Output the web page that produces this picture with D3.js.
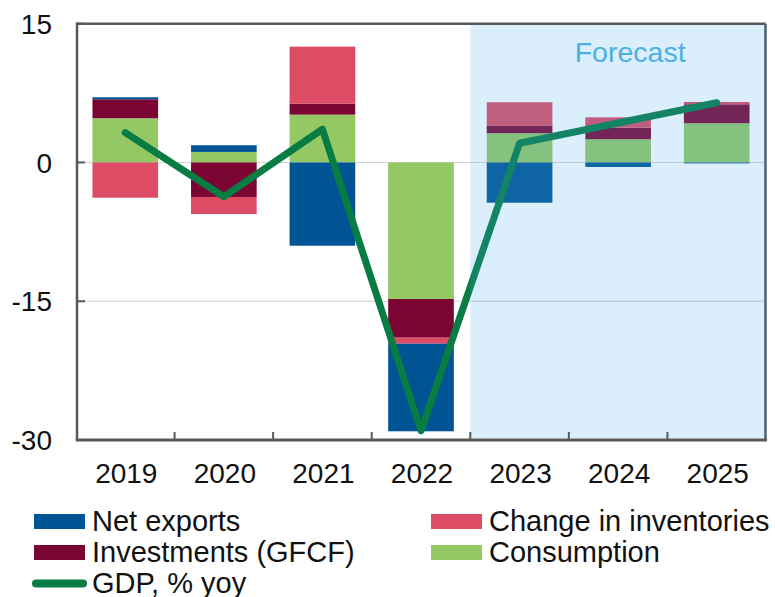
<!DOCTYPE html>
<html>
<head>
<meta charset="utf-8">
<script src="https://cdn.jsdelivr.net/npm/d3@7"></script>
<style>
body{margin:0;background:#fff;}
text{font-family:"Liberation Sans",Arial,sans-serif;}
</style>
</head>
<body>
<div id="chart"></div>
<script>
// GDP growth decomposition, contributions in pp, with forecast shading

const years = ["2019","2020","2021","2022","2023","2024","2025"];
const consumption = [4.78, 1.14, 5.17, -14.76, 3.16, 2.51, 4.24];
const investments = [2.05, -3.73, 1.19, -4.18, 0.79, 1.25, 2.05];
const inventories = [-3.81, -1.84, 6.16, -0.65, 2.56, 1.12, 0.25];
const netExports  = [0.22, 0.72, -9.00, -9.47, -4.35, -0.49, -0.10];
const gdp         = [3.22, -3.70, 3.59, -29.0, 2.08, 4.27, 6.46];
const yTicks = [15, 0, -15, -30];
const gridTicks = [0, -15];
const forecastStart = "2023";
const forecastLabel = "Forecast";

// series: stack order from zero outwards
const series = [
  {key:"cons",   name:"Consumption",           color:"#93c865", vals:consumption},
  {key:"inv",    name:"Investments (GFCF)",    color:"#7b0532", vals:investments},
  {key:"invent", name:"Change in inventories", color:"#dc4d65", vals:inventories},
  {key:"net",    name:"Net exports",           color:"#005493", vals:netExports}
];
const gdpColor = "#077c43";
const gdpName = "GDP, % yoy";

const width = 775, height = 597;
const pLeft = 76, pRight = 766, pTop = 23.7, pBottom = 440;

const svg = d3.select("#chart").append("svg")
  .attr("width", width).attr("height", height);

const x = d3.scaleBand().domain(years).range([pLeft, pRight]).padding(0);
const y = d3.scaleLinear().domain([-30, 15]).range([pBottom, pTop]);
const barW = x.bandwidth() * 0.666;
const cx = d => x(d) + x.bandwidth() / 2;

// gridlines
svg.append("g").selectAll("line").data(gridTicks).join("line")
  .attr("x1", pLeft).attr("x2", pRight)
  .attr("y1", d => y(d)).attr("y2", d => y(d))
  .attr("stroke", "#d0d0d0").attr("stroke-width", 1);

// stacked bars
const rows = years.map((yr, i) => {
  const r = {year: yr};
  series.forEach(s => r[s.key] = s.vals[i]);
  return r;
});
const stack = d3.stack().keys(series.map(s => s.key)).offset(d3.stackOffsetDiverging);
const stacked = stack(rows);

svg.append("g").selectAll("g").data(stacked).join("g")
  .attr("fill", (d, i) => series[i].color)
  .selectAll("rect").data(d => d).join("rect")
    .attr("x", d => cx(d.data.year) - barW / 2)
    .attr("width", barW)
    .attr("y", d => y(Math.max(d[0], d[1])))
    .attr("height", d => Math.abs(y(d[0]) - y(d[1])));

// GDP line
const line = d3.line().x((d, i) => cx(years[i])).y(d => y(d));
svg.append("path").datum(gdp)
  .attr("d", line)
  .attr("fill", "none")
  .attr("stroke", gdpColor)
  .attr("stroke-width", 7)
  .attr("stroke-linecap", "round")
  .attr("stroke-linejoin", "round");

// forecast overlay
const fx = x(forecastStart);
svg.append("rect")
  .attr("x", fx).attr("y", pTop + 1.3)
  .attr("width", pRight - 0.5 - fx).attr("height", pBottom - pTop - 2.8)
  .attr("fill", "rgb(75,172,235)").attr("fill-opacity", 0.2);

svg.append("text")
  .attr("x", (fx + pRight) / 2 + 12).attr("y", 62)
  .attr("text-anchor", "middle")
  .attr("font-size", 28.5).attr("fill", "#4cb0e6")
  .text(forecastLabel);

// frame
const axisColor = "#595959";
svg.append("line").attr("x1", 77).attr("x2", 765.5).attr("y1", pTop).attr("y2", pTop)
  .attr("stroke", axisColor).attr("stroke-width", 2.5);
svg.append("line").attr("x1", 765.5).attr("x2", 765.5).attr("y1", pTop).attr("y2", pBottom)
  .attr("stroke", "#4f5f6b").attr("stroke-width", 2.5);
svg.append("line").attr("x1", 77).attr("x2", 77).attr("y1", pTop - 1.2).attr("y2", pBottom)
  .attr("stroke", axisColor).attr("stroke-width", 2.5);
svg.append("line").attr("x1", 75.8).attr("x2", 767).attr("y1", pBottom).attr("y2", pBottom)
  .attr("stroke", axisColor).attr("stroke-width", 3);

// y ticks and labels
const yAx = svg.append("g");
yAx.selectAll("line").data(yTicks).join("line")
  .attr("x1", 77).attr("x2", 85)
  .attr("y1", d => y(d)).attr("y2", d => y(d))
  .attr("stroke", axisColor).attr("stroke-width", 2);
yAx.selectAll("text").data(yTicks).join("text")
  .attr("x", 52).attr("y", d => y(d)).attr("dy", "0.36em")
  .attr("text-anchor", "end").attr("font-size", 28).attr("fill", "#111")
  .text(d => d);

// x ticks (category boundaries) and labels
const xAx = svg.append("g");
xAx.selectAll("line").data(years.slice(1)).join("line")
  .attr("x1", d => x(d)).attr("x2", d => x(d))
  .attr("y1", pBottom).attr("y2", pBottom - 8)
  .attr("stroke", axisColor).attr("stroke-width", 2);
xAx.selectAll("text").data(years).join("text")
  .attr("x", d => cx(d) + 1).attr("y", 483)
  .attr("text-anchor", "middle").attr("font-size", 28).attr("fill", "#111")
  .text(d => d);

// legend
const legendItems = [
  {s: series[3], col: 0, row: 0},
  {s: series[2], col: 1, row: 0},
  {s: series[1], col: 0, row: 1},
  {s: series[0], col: 1, row: 1}
];
const colX = [34, 431], rowY = [521.5, 552.5, 583.5];
const lg = svg.append("g");
legendItems.forEach(it => {
  lg.append("rect")
    .attr("x", colX[it.col]).attr("y", rowY[it.row] - 7.5)
    .attr("width", 51).attr("height", 15)
    .attr("fill", it.s.color);
  lg.append("text")
    .attr("x", colX[it.col] + 58).attr("y", rowY[it.row] + 9)
    .attr("font-size", 29).attr("fill", "#111")
    .text(it.s.name);
});
lg.append("line")
  .attr("x1", colX[0] + 2).attr("x2", colX[0] + 49)
  .attr("y1", rowY[2]).attr("y2", rowY[2])
  .attr("stroke", gdpColor).attr("stroke-width", 8).attr("stroke-linecap", "round");
lg.append("text")
  .attr("x", colX[0] + 58).attr("y", rowY[2] + 9)
  .attr("font-size", 29).attr("fill", "#111")
  .text(gdpName);
</script>
</body>
</html>
